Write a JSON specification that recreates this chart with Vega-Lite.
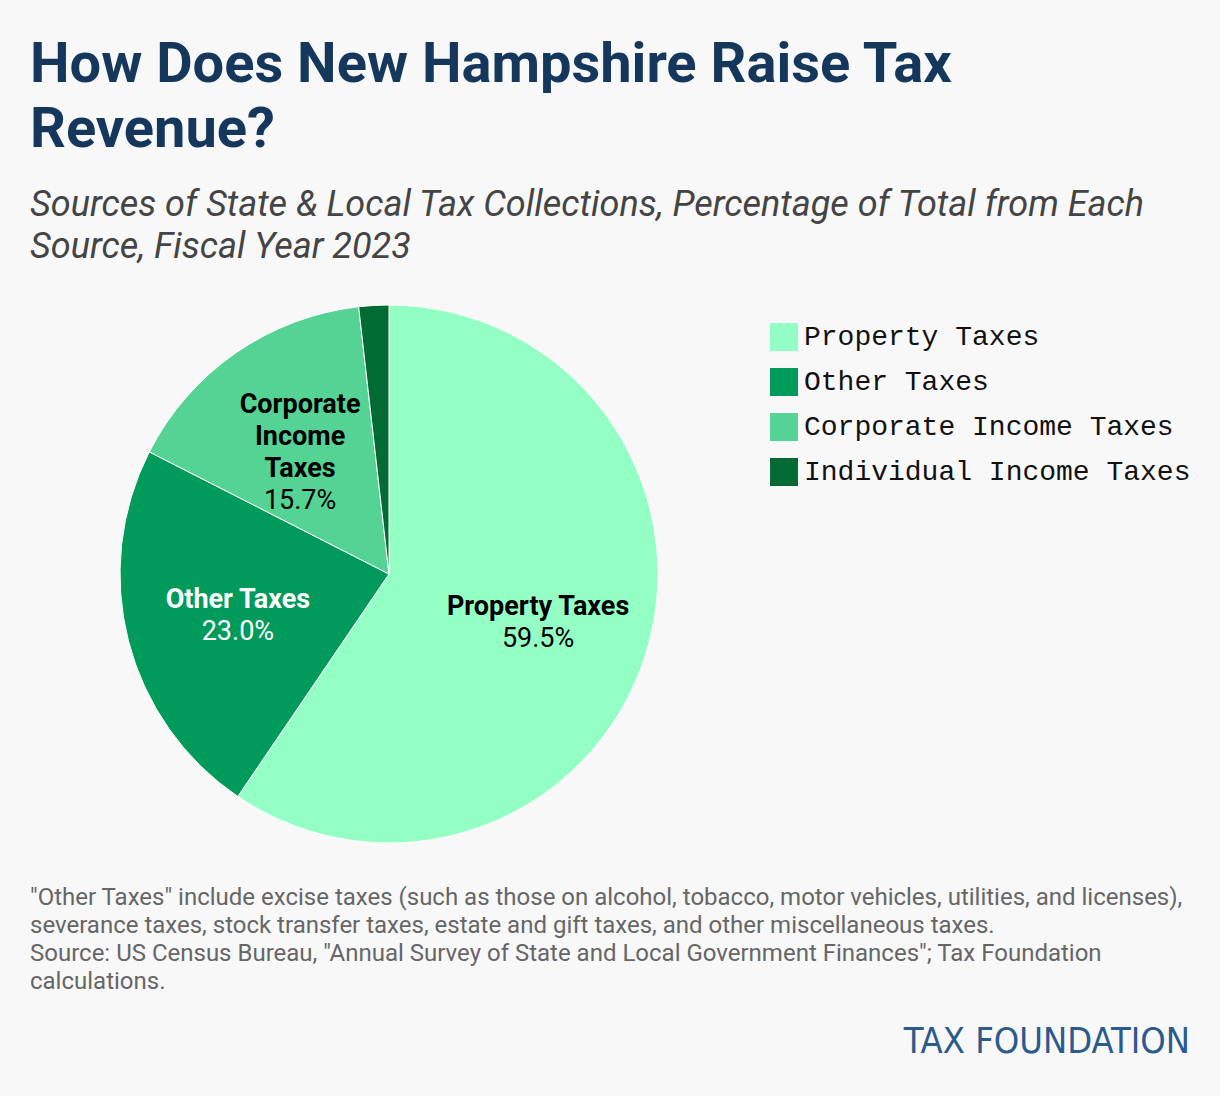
{
  "$schema": "https://vega.github.io/schema/vega-lite/v6.json",
  "background": "#f8f8f8",
  "padding": {"left": 30, "top": 37, "right": 30, "bottom": 40},
  "config": {"view": {"stroke": null}, "font": "Roboto"},
  "title": {
    "text": ["How Does New Hampshire Raise Tax", "Revenue?"],
    "subtitle": ["Sources of State & Local Tax Collections, Percentage of Total from Each", "Source, Fiscal Year 2023"],
    "anchor": "start",
    "font": "Roboto",
    "fontSize": 56,
    "fontWeight": "bold",
    "color": "#16375c",
    "lineHeight": 65,
    "subtitleFont": "Roboto",
    "subtitleFontSize": 36,
    "subtitleFontStyle": "italic",
    "subtitleColor": "#444444",
    "subtitleLineHeight": 42,
    "subtitlePadding": 29,
    "offset": 24
  },
  "datasets": {
    "taxes": [
      {"source": "Property Taxes", "share": 59.5, "wrapped": "Property Taxes"},
      {"source": "Other Taxes", "share": 23.0, "wrapped": "Other Taxes"},
      {"source": "Corporate Income Taxes", "share": 15.7, "wrapped": "Corporate|Income|Taxes"},
      {"source": "Individual Income Taxes", "share": 1.8, "wrapped": "Individual|Income|Taxes"}
    ]
  },
  "spacing": 20,
  "vconcat": [
    {
      "width": 718,
      "height": 568,
      "data": {"name": "taxes"},
      "title": {
        "text": [
          "\"Other Taxes\" include excise taxes (such as those on alcohol, tobacco, motor vehicles, utilities, and licenses),",
          "severance taxes, stock transfer taxes, estate and gift taxes, and other miscellaneous taxes.",
          "Source: US Census Bureau, \"Annual Survey of State and Local Government Finances\"; Tax Foundation",
          "calculations."
        ],
        "orient": "bottom",
        "anchor": "start",
        "font": "Roboto",
        "fontSize": 24,
        "fontWeight": "normal",
        "color": "#666666",
        "lineHeight": 28,
        "offset": 28
      },
      "encoding": {
        "theta": {"field": "share", "type": "quantitative", "stack": true},
        "order": {"field": "share", "sort": "descending"}
      },
      "layer": [
        {
          "mark": {"type": "arc", "outerRadius": 269, "stroke": "#ffffff", "strokeWidth": 1},
          "encoding": {
            "color": {
              "field": "source",
              "type": "nominal",
              "sort": ["Property Taxes", "Other Taxes", "Corporate Income Taxes", "Individual Income Taxes"],
              "scale": {
                "domain": ["Property Taxes", "Other Taxes", "Corporate Income Taxes", "Individual Income Taxes"],
                "range": ["#94ffc5", "#009b5b", "#55d394", "#006b32"]
              },
              "legend": {
                "orient": "none",
                "legendX": 740,
                "legendY": 33,
                "title": null,
                "symbolType": "square",
                "symbolSize": 784,
                "symbolStrokeWidth": 0,
                "symbolOpacity": 1,
                "labelFont": "Liberation Mono",
                "labelFontSize": 28,
                "labelColor": "#111111",
                "labelOffset": 6,
                "rowPadding": 17,
                "labelLimit": 500
              }
            }
          }
        },
        {
          "transform": [
            {"filter": "datum.share > 5"}
          ],
          "mark": {"type": "text", "radius": 156, "font": "Roboto", "fontSize": 27, "fontWeight": "bold", "lineHeight": 32, "lineBreak": "|", "baseline": "middle", "align": "center", "dy": {"expr": "-14 * length(split(datum.wrapped, '|')) + 1"}},
          "encoding": {
            "text": {"field": "wrapped", "type": "nominal"},
            "color": {"condition": {"test": "datum.source === 'Other Taxes'", "value": "#ffffff"}, "value": "#000000"}
          }
        },
        {
          "transform": [
            {"filter": "datum.share > 5"},
            {"calculate": "format(datum.share, '.1f') + '%'", "as": "pctText"}
          ],
          "mark": {"type": "text", "radius": 156, "font": "Roboto", "fontSize": 27, "fontWeight": "normal", "baseline": "middle", "align": "center", "dy": {"expr": "18 * length(split(datum.wrapped, '|')) + 1"}},
          "encoding": {
            "text": {"field": "pctText", "type": "nominal"},
            "color": {"condition": {"test": "datum.source === 'Other Taxes'", "value": "#ffffff"}, "value": "#000000"}
          }
        }
      ]
    },
    {
      "width": 1160,
      "height": 4,
      "data": {"values": [{"brand": "TAX FOUNDATION"}]},
      "mark": {"type": "text"},
      "encoding": {},
      "title": {
        "text": "TAX FOUNDATION",
        "orient": "bottom",
        "anchor": "end",
        "font": "DejaVu Sans Condensed, Roboto, sans-serif",
        "fontSize": 36,
        "fontWeight": "normal",
        "color": "#2b5a8c",
        "offset": 0
      }
    }
  ]
}
